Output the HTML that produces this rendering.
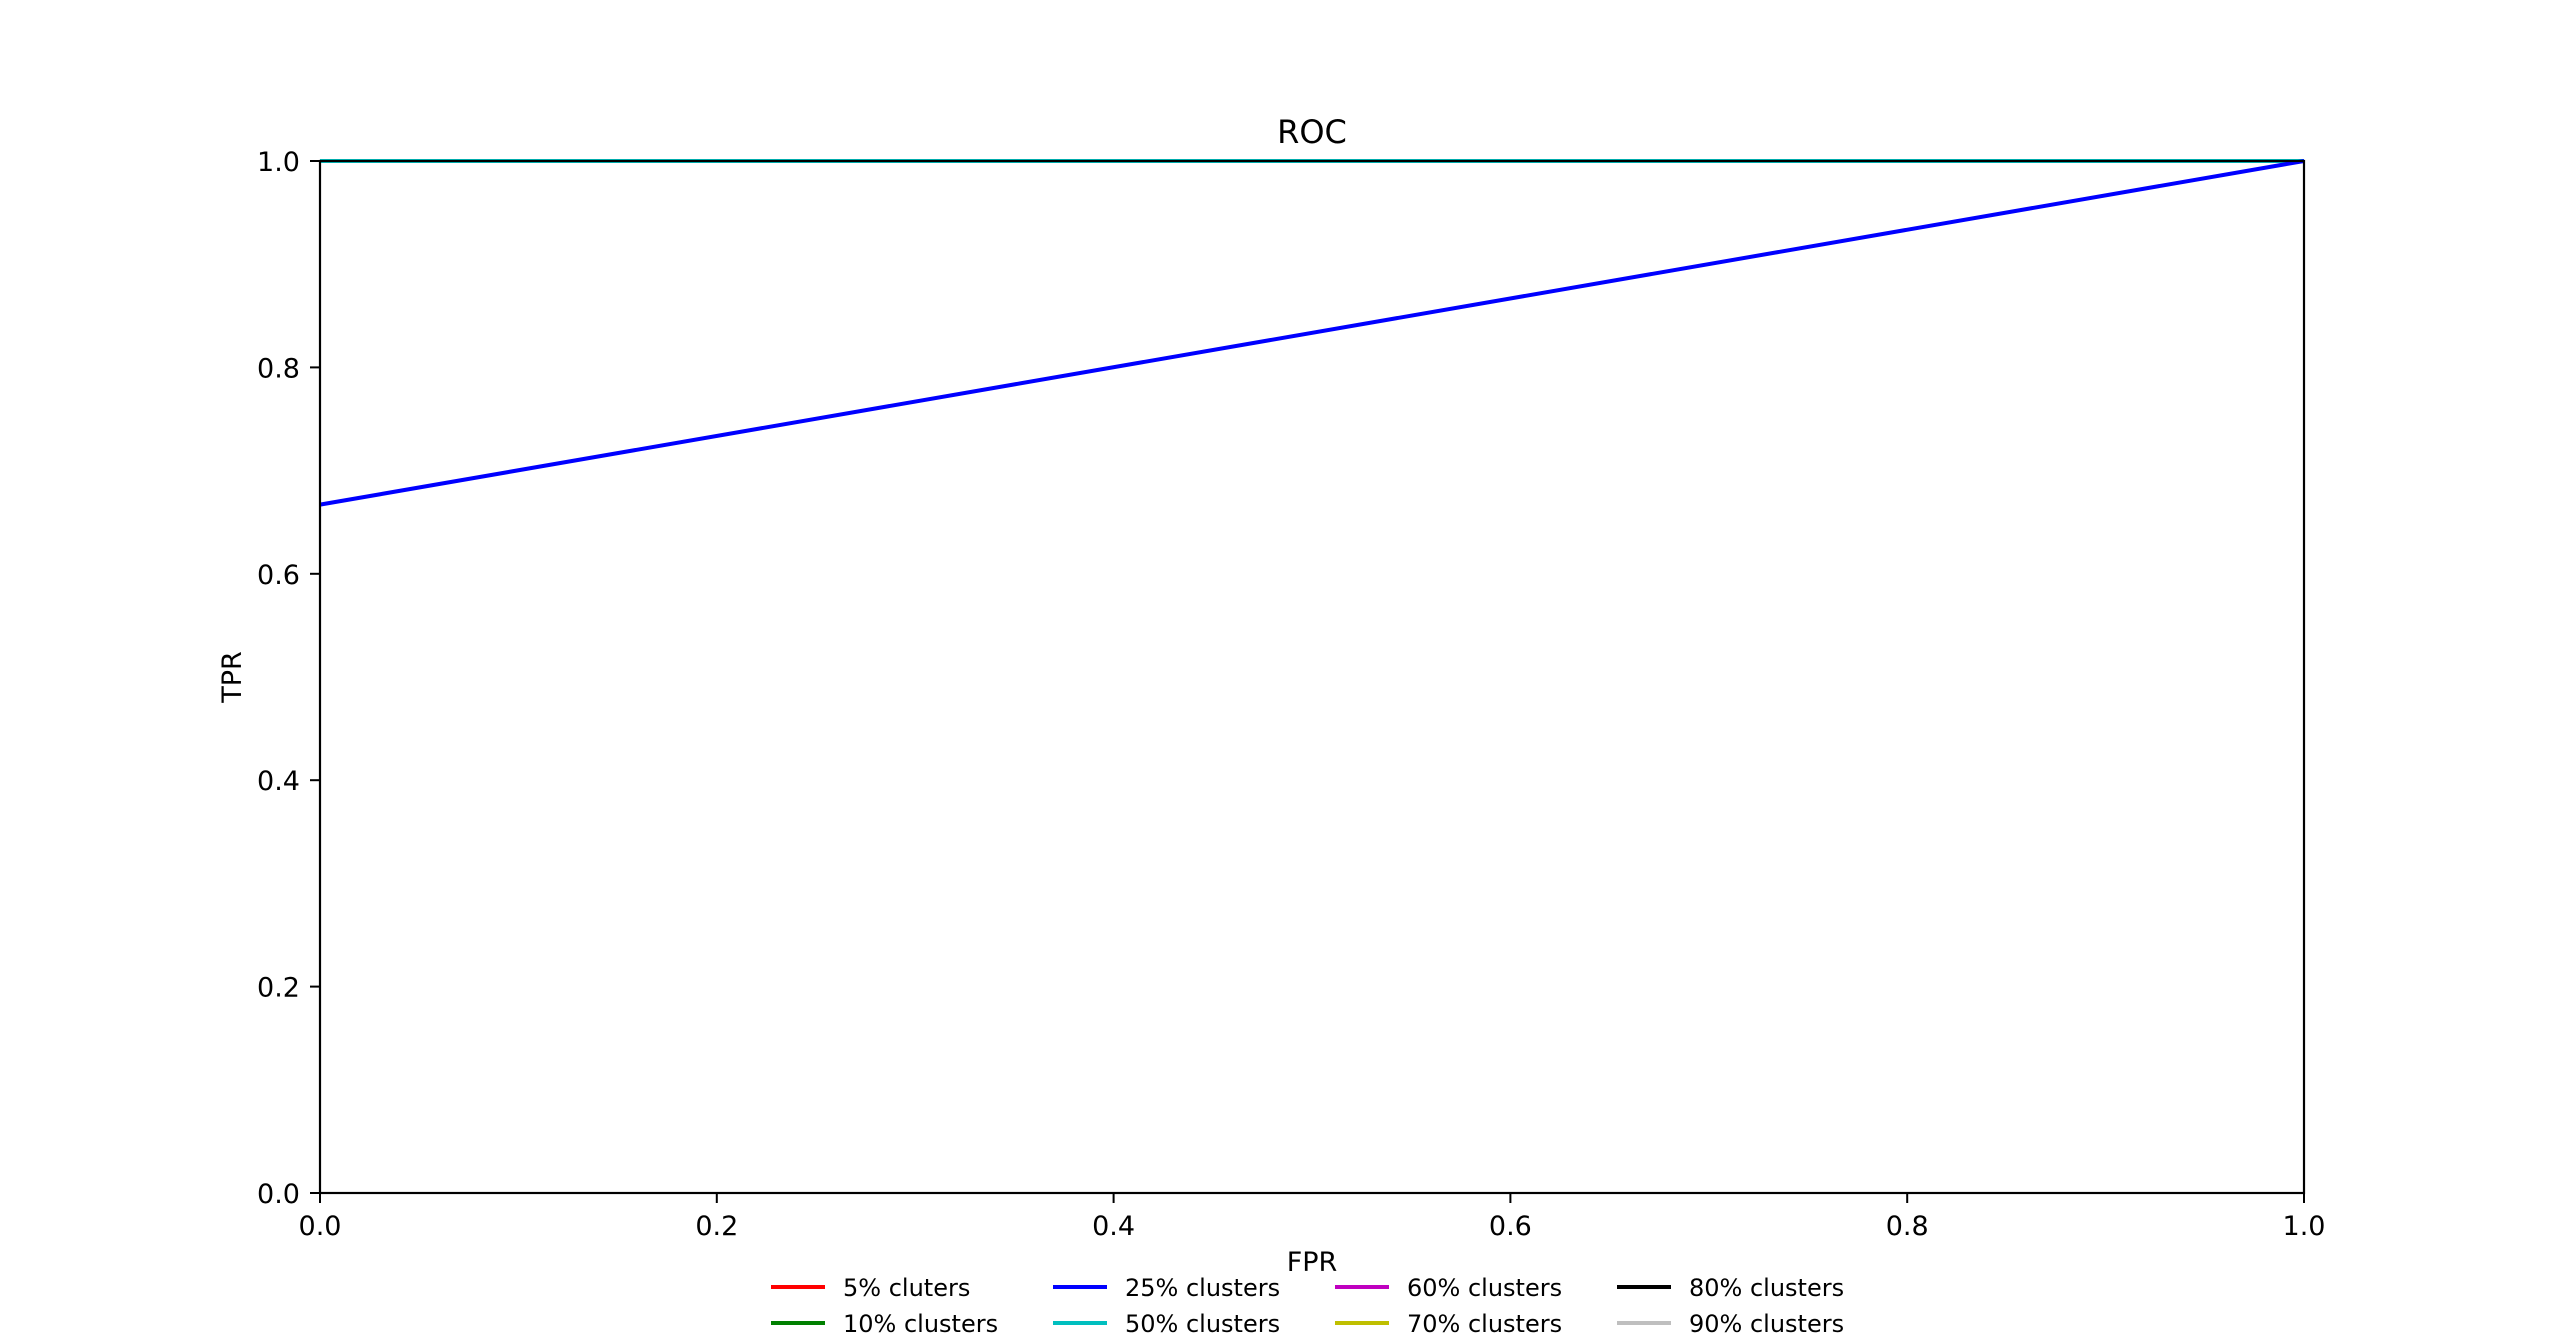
<!DOCTYPE html>
<html><head><meta charset="utf-8"><style>
html,body{margin:0;padding:0;background:#fff}
svg{display:block;font-family:"DejaVu Sans","Liberation Sans",sans-serif}
</style></head><body>
<svg id="chart" width="2560" height="1340" viewBox="0 0 2560 1340" xmlns="http://www.w3.org/2000/svg">
<rect width="2560" height="1340" fill="#fff"/>
<text x="1312" y="143" font-size="32" text-anchor="middle">ROC</text>
<text x="1312" y="1271" font-size="27" text-anchor="middle">FPR</text>
<text transform="translate(241,677) rotate(-90)" font-size="27" text-anchor="middle">TPR</text>
<g id="ticks"></g>
<g id="series"></g>
<rect x="320" y="161" width="1984" height="1032" fill="none" stroke="#000" stroke-width="2.2"/>
<g id="legend"></g>
</svg>
<script>
const xTicks = [0, 0.2, 0.4, 0.6, 0.8, 1.0];
const yTicks = [0, 0.2, 0.4, 0.6, 0.8, 1.0];
const tickLabels = ["0.0", "0.2", "0.4", "0.6", "0.8", "1.0"];
const seriesNames = ["5% cluters", "10% clusters", "25% clusters", "50% clusters", "60% clusters", "70% clusters", "80% clusters", "90% clusters"];
const seriesColors = ["#ff0000", "#008000", "#0000ff", "#00bfbf", "#bf00bf", "#bfbf00", "#000000", "#bfbfbf"];
const fpr25 = [0, 1];
const tpr25 = [0.667, 1];
const fpr50 = [0, 1];
const tpr50 = [1, 1];

const NS = "http://www.w3.org/2000/svg";
const X0 = 320, X1 = 2304, Y0 = 1193, Y1 = 161;
const sx = v => X0 + v * (X1 - X0);
const sy = v => Y0 - v * (Y0 - Y1);
function mk(tag, attrs, parent) {
  const e = document.createElementNS(NS, tag);
  for (const k in attrs) e.setAttribute(k, attrs[k]);
  parent.appendChild(e);
  return e;
}
const tg = document.getElementById("ticks");
xTicks.forEach((v, i) => {
  const l = mk("line", {x1: sx(v), x2: sx(v), y1: Y0, y2: Y0 + 10, stroke: "#000", "stroke-width": 2}, tg);
  
  
  const t = mk("text", {x: sx(v), y: Y0 + 42, "font-size": 27, "text-anchor": "middle"}, tg);
  t.textContent = tickLabels[i];
  
  
});
yTicks.forEach((v, i) => {
  const l = mk("line", {x1: X0 - 10, x2: X0, y1: sy(v), y2: sy(v), stroke: "#000", "stroke-width": 2}, tg);
  
  
  const t = mk("text", {x: X0 - 20, y: sy(v) + 10, "font-size": 27, "text-anchor": "end"}, tg);
  t.textContent = tickLabels[i];
  
  
});
const sg = document.getElementById("series");
function drawLine(xs, ys, color, name) {
  const pts = xs.map((x, i) => sx(x) + "," + sy(ys[i])).join(" ");
  const p = mk("polyline", {points: pts, fill: "none", stroke: color, "stroke-width": 4}, sg);
  
  
}
drawLine(fpr50, tpr50, seriesColors[3], "line-50pct");
drawLine(fpr25, tpr25, seriesColors[2], "line-25pct");

const lg = document.getElementById("legend");
seriesNames.forEach((n, i) => {
  const col = Math.floor(i / 2), row = i % 2;
  const x = 771 + col * 282, y = 1287 + row * 36;
  const l = mk("line", {x1: x, x2: x + 54, y1: y, y2: y, stroke: seriesColors[i], "stroke-width": 4}, lg);
  
  
  const t = mk("text", {x: x + 72, y: y + 9, "font-size": 24}, lg);
  t.textContent = n;
  
  
});
</script>
</body></html>
